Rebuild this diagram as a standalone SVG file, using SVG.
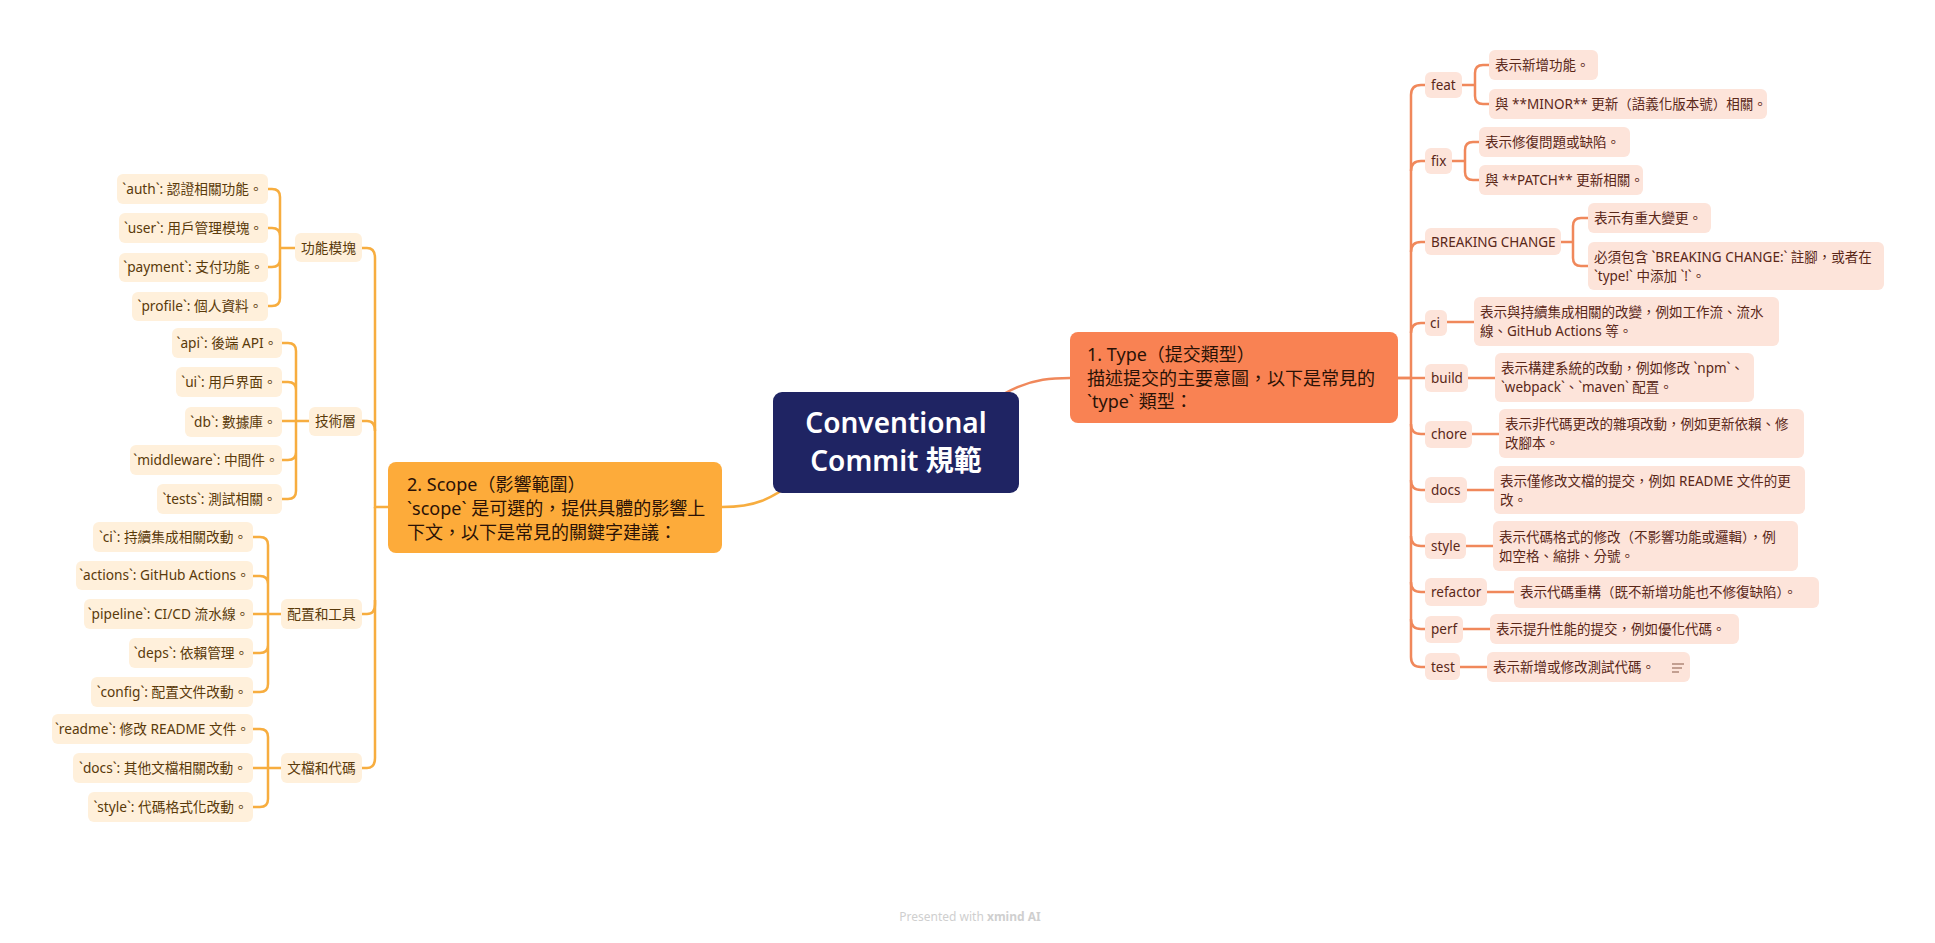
<svg xmlns="http://www.w3.org/2000/svg" width="1935" height="943" viewBox="0 0 1935 943">
<style>
text{font-family:"Noto Sans","Noto Sans CJK TC",sans-serif}
.rl{fill:#fde4da}
.ll{fill:#fff0db}
.rt{font-size:13.5px;fill:#5a2718}
.lt{font-size:13.7px;fill:#5a3a0a;text-anchor:middle}
.rc{fill:none;stroke:#f0885b;stroke-width:2.5}
.lc{fill:none;stroke:#f7ad3f;stroke-width:2.5}
.main{font-size:18px;fill:#2a1206}
</style>
<rect width="1935" height="943" fill="#ffffff"/>
<g id="connectors">
<path class="rc" d="M950,430 C1010,385 1030,378 1070,378"/>
<path class="lc" d="M722,507 C755,507 770,500 800,478"/>
<path class="rc" d="M1398,378 H1411 V95 Q1411,85 1421,85 H1425"/>
<path class="rc" d="M1411,171 Q1411,161 1421,161 H1425"/>
<path class="rc" d="M1411,252 Q1411,242 1421,242 H1425"/>
<path class="rc" d="M1411,333 Q1411,323 1421,323 H1425"/>
<path class="rc" d="M1398,378 H1425"/>
<path class="rc" d="M1411,424 Q1411,434 1421,434 H1425"/>
<path class="rc" d="M1411,480 Q1411,490 1421,490 H1425"/>
<path class="rc" d="M1411,536 Q1411,546 1421,546 H1425"/>
<path class="rc" d="M1411,582 Q1411,592 1421,592 H1425"/>
<path class="rc" d="M1411,619 Q1411,629 1421,629 H1425"/>
<path class="rc" d="M1411,378 V657 Q1411,667 1421,667 H1425"/>
<path class="rc" d="M1462,85 H1475 V73 Q1475,65 1483,65 H1489 M1475,85 V96 Q1475,104 1483,104 H1489"/>
<path class="rc" d="M1452,161 H1465 V150 Q1465,142 1473,142 H1479 M1465,161 V172 Q1465,180 1473,180 H1479"/>
<path class="rc" d="M1561,242 H1573 V226 Q1573,218 1581,218 H1588 M1573,242 V258 Q1573,266 1581,266 H1588"/>
<path class="rc" d="M1447,322 H1474"/>
<path class="rc" d="M1468,378 H1495"/>
<path class="rc" d="M1472,434 H1499"/>
<path class="rc" d="M1467,490 H1494"/>
<path class="rc" d="M1466,546 H1493"/>
<path class="rc" d="M1487,592 H1514"/>
<path class="rc" d="M1463,629 H1490"/>
<path class="rc" d="M1460,667 H1487"/>
<path class="lc" d="M388,507 H375 V258 Q375,248 367,248 H362"/>
<path class="lc" d="M375,431 Q375,421 367,421 H362"/>
<path class="lc" d="M375,507 V604 Q375,614 367,614 H362"/>
<path class="lc" d="M375,600 V758 Q375,768 367,768 H362"/>
<path class="lc" d="M295,248 H280 V197 Q280,189 272,189 H268 M280,236 Q280,228 272,228 H268 M280,259 Q280,267 272,267 H268 M280,248 V298 Q280,306 272,306 H268"/>
<path class="lc" d="M309,421 H296 V351 Q296,343 288,343 H282 M296,390 Q296,382 288,382 H282 M296,421 H282 M296,452 Q296,460 288,460 H282 M296,421 V491 Q296,499 288,499 H282"/>
<path class="lc" d="M281,614 H268 V545 Q268,537 260,537 H253 M268,584 Q268,576 260,576 H253 M268,614 H253 M268,645 Q268,653 260,653 H253 M268,614 V684 Q268,692 260,692 H253"/>
<path class="lc" d="M281,768 H268 V737 Q268,729 260,729 H253 M268,768 H253 M268,768 V799 Q268,807 260,807 H253"/>
</g>
<g id="center">
<rect x="773" y="392" width="246" height="101" rx="9" fill="#1f2463"/>
<text x="896" y="433" font-size="28" font-weight="600" fill="#ffffff" text-anchor="middle">Conventional</text>
<text x="896" y="471" font-size="28" font-weight="600" fill="#ffffff" text-anchor="middle">Commit 規範</text>
</g>
<g id="type">
<rect x="1070" y="332" width="328" height="91" rx="8" fill="#f98253"/>
<text class="main" x="1087" y="361">1. Type（提交類型）</text>
<text class="main" x="1087" y="385">描述提交的主要意圖，以下是常見的</text>
<text class="main" x="1087" y="408">`type` 類型：</text>
</g>
<g id="scope">
<rect x="388" y="462" width="334" height="91" rx="8" fill="#fdab3a"/>
<text class="main" x="407" y="491">2. Scope（影響範圍）</text>
<text class="main" x="407" y="515">`scope` 是可選的，提供具體的影響上</text>
<text class="main" x="407" y="539">下文，以下是常見的關鍵字建議：</text>
</g>
<g id="feat"><rect class="rl" x="1425" y="72" width="37" height="26" rx="6"/><text class="rt" x="1431" y="90">feat</text></g>
<g id="feat-1"><rect class="rl" x="1489" y="50" width="109" height="30" rx="6"/><text class="rt" x="1495" y="70">表示新增功能。</text></g>
<g id="feat-2"><rect class="rl" x="1489" y="89" width="278" height="30" rx="6"/><text class="rt" x="1495" y="109">與 **MINOR** 更新（語義化版本號）相關。</text></g>
<g id="fix"><rect class="rl" x="1425" y="148" width="27" height="26" rx="6"/><text class="rt" x="1431" y="166">fix</text></g>
<g id="fix-1"><rect class="rl" x="1479" y="127" width="151" height="30" rx="6"/><text class="rt" x="1485" y="147">表示修復問題或缺陷。</text></g>
<g id="fix-2"><rect class="rl" x="1479" y="165" width="164" height="30" rx="6"/><text class="rt" x="1485" y="185">與 **PATCH** 更新相關。</text></g>
<g id="breaking"><rect class="rl" x="1425" y="228" width="136" height="27" rx="6"/><text class="rt" x="1431" y="247">BREAKING CHANGE</text></g>
<g id="breaking-1"><rect class="rl" x="1588" y="203" width="123" height="30" rx="6"/><text class="rt" x="1594" y="223">表示有重大變更。</text></g>
<g id="breaking-2"><rect class="rl" x="1588" y="242" width="296" height="48" rx="6"/><text class="rt" x="1594" y="262">必須包含 `BREAKING CHANGE:` 註腳，或者在</text><text class="rt" x="1594" y="281">`type!` 中添加 `!`。</text></g>
<g id="ci"><rect class="rl" x="1425" y="310" width="22" height="26" rx="6"/><text class="rt" x="1430" y="328">ci</text></g>
<g id="ci-1"><rect class="rl" x="1474" y="297" width="305" height="49" rx="6"/><text class="rt" x="1480" y="317">表示與持續集成相關的改變，例如工作流、流水</text><text class="rt" x="1480" y="336">線、GitHub Actions 等。</text></g>
<g id="build"><rect class="rl" x="1425" y="364" width="43" height="28" rx="6"/><text class="rt" x="1431" y="383">build</text></g>
<g id="build-1"><rect class="rl" x="1495" y="353" width="259" height="49" rx="6"/><text class="rt" x="1501" y="373">表示構建系統的改動，例如修改 `npm`、</text><text class="rt" x="1501" y="392">`webpack`、`maven` 配置。</text></g>
<g id="chore"><rect class="rl" x="1425" y="421" width="47" height="27" rx="6"/><text class="rt" x="1431" y="439">chore</text></g>
<g id="chore-1"><rect class="rl" x="1499" y="409" width="305" height="49" rx="6"/><text class="rt" x="1505" y="429">表示非代碼更改的雜項改動，例如更新依賴、修</text><text class="rt" x="1505" y="448">改腳本。</text></g>
<g id="docs"><rect class="rl" x="1425" y="477" width="42" height="26" rx="6"/><text class="rt" x="1431" y="495">docs</text></g>
<g id="docs-1"><rect class="rl" x="1494" y="466" width="311" height="48" rx="6"/><text class="rt" x="1500" y="486">表示僅修改文檔的提交，例如 README 文件的更</text><text class="rt" x="1500" y="505">改。</text></g>
<g id="style"><rect class="rl" x="1425" y="533" width="41" height="26" rx="6"/><text class="rt" x="1431" y="551">style</text></g>
<g id="style-1"><rect class="rl" x="1493" y="521" width="305" height="50" rx="6"/><text class="rt" x="1499" y="542">表示代碼格式的修改（不影響功能或邏輯），例</text><text class="rt" x="1499" y="561">如空格、縮排、分號。</text></g>
<g id="refactor"><rect class="rl" x="1425" y="578" width="62" height="28" rx="6"/><text class="rt" x="1431" y="597">refactor</text></g>
<g id="refactor-1"><rect class="rl" x="1514" y="577" width="305" height="31" rx="6"/><text class="rt" x="1520" y="597">表示代碼重構（既不新增功能也不修復缺陷）。</text></g>
<g id="perf"><rect class="rl" x="1425" y="616" width="38" height="27" rx="6"/><text class="rt" x="1431" y="634">perf</text></g>
<g id="perf-1"><rect class="rl" x="1490" y="614" width="249" height="30" rx="6"/><text class="rt" x="1496" y="634">表示提升性能的提交，例如優化代碼。</text></g>
<g id="test"><rect class="rl" x="1425" y="653" width="35" height="27" rx="6"/><text class="rt" x="1431" y="672">test</text></g>
<g id="test-1"><rect class="rl" x="1487" y="652" width="203" height="30" rx="6"/><text class="rt" x="1493" y="672">表示新增或修改測試代碼。</text><path d="M1672,664 H1684 M1672,668 H1682 M1672,672 H1679" stroke="#8a5a48" stroke-width="1.2" fill="none"/></g>
<g id="s-func"><rect class="ll" x="295" y="233" width="67" height="29" rx="6"/><text class="lt" x="328.5" y="253">功能模塊</text></g>
<g id="s-auth"><rect class="ll" x="117" y="174" width="151" height="30" rx="6"/><text class="lt" x="192.5" y="194">`auth`: 認證相關功能。</text></g>
<g id="s-user"><rect class="ll" x="119" y="213" width="149" height="30" rx="6"/><text class="lt" x="193.5" y="233">`user`: 用戶管理模塊。</text></g>
<g id="s-payment"><rect class="ll" x="119" y="253" width="149" height="29" rx="6"/><text class="lt" x="193.5" y="272">`payment`: 支付功能。</text></g>
<g id="s-profile"><rect class="ll" x="132" y="292" width="136" height="29" rx="6"/><text class="lt" x="200" y="311">`profile`: 個人資料。</text></g>
<g id="s-tech"><rect class="ll" x="309" y="407" width="53" height="29" rx="6"/><text class="lt" x="335.5" y="426">技術層</text></g>
<g id="s-api"><rect class="ll" x="172" y="328" width="110" height="30" rx="6"/><text class="lt" x="227" y="348">`api`: 後端 API。</text></g>
<g id="s-ui"><rect class="ll" x="176" y="367" width="106" height="30" rx="6"/><text class="lt" x="229" y="387">`ui`: 用戶界面。</text></g>
<g id="s-db"><rect class="ll" x="185" y="407" width="97" height="30" rx="6"/><text class="lt" x="233.5" y="427">`db`: 數據庫。</text></g>
<g id="s-middleware"><rect class="ll" x="130" y="445" width="152" height="30" rx="6"/><text class="lt" x="206" y="465">`middleware`: 中間件。</text></g>
<g id="s-tests"><rect class="ll" x="157" y="484" width="125" height="30" rx="6"/><text class="lt" x="219.5" y="504">`tests`: 測試相關。</text></g>
<g id="s-config-tools"><rect class="ll" x="281" y="599" width="81" height="30" rx="6"/><text class="lt" x="321.5" y="619">配置和工具</text></g>
<g id="s-ci"><rect class="ll" x="93" y="522" width="160" height="30" rx="6"/><text class="lt" x="173" y="542">`ci`: 持續集成相關改動。</text></g>
<g id="s-actions"><rect class="ll" x="76" y="561" width="177" height="29" rx="6"/><text class="lt" x="164.5" y="580">`actions`: GitHub Actions。</text></g>
<g id="s-pipeline"><rect class="ll" x="84" y="599" width="169" height="30" rx="6"/><text class="lt" x="168.5" y="619">`pipeline`: CI/CD 流水線。</text></g>
<g id="s-deps"><rect class="ll" x="129" y="638" width="124" height="30" rx="6"/><text class="lt" x="191" y="658">`deps`: 依賴管理。</text></g>
<g id="s-config"><rect class="ll" x="91" y="677" width="162" height="30" rx="6"/><text class="lt" x="172" y="697">`config`: 配置文件改動。</text></g>
<g id="s-docs-code"><rect class="ll" x="281" y="753" width="81" height="30" rx="6"/><text class="lt" x="321.5" y="773">文檔和代碼</text></g>
<g id="s-readme"><rect class="ll" x="52" y="714" width="201" height="30" rx="6"/><text class="lt" x="152.5" y="734">`readme`: 修改 README 文件。</text></g>
<g id="s-docs"><rect class="ll" x="73" y="753" width="180" height="30" rx="6"/><text class="lt" x="163" y="773">`docs`: 其他文檔相關改動。</text></g>
<g id="s-style"><rect class="ll" x="88" y="792" width="165" height="30" rx="6"/><text class="lt" x="170.5" y="812">`style`: 代碼格式化改動。</text></g>
<text x="970" y="921" font-size="12" fill="#cfcfcf" text-anchor="middle">Presented with <tspan font-weight="700">xmind AI</tspan></text>
</svg>
